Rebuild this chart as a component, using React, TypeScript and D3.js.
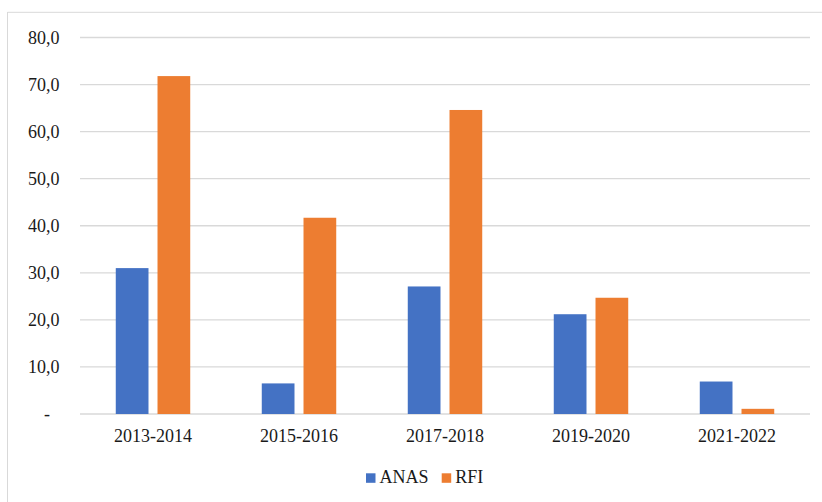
import * as d3 from "d3";
import { useRef, useEffect } from "react";

const periods = ["2013-2014", "2015-2016", "2017-2018", "2019-2020", "2021-2022"];
const seriesNames = ["ANAS", "RFI"];
const anasValues = [31.0, 6.5, 27.1, 21.2, 6.9];
const rfiValues = [71.8, 41.7, 64.6, 24.7, 1.1];
const yTicks = [0, 10, 20, 30, 40, 50, 60, 70, 80];
const colors = ["#4472C4", "#ED7D31"];

const FONT = "Liberation Serif, DejaVu Serif, serif";

export default function App() {
  const svgRef = useRef<SVGSVGElement | null>(null);
  const width = 822;
  const height = 502;

  useEffect(() => {
    if (!svgRef.current) return;
    const svg = d3.select(svgRef.current);
    svg.selectAll("*").remove();

    const marginLeft = 80;
    const marginRight = 12;
    const plotTop = 37.5;
    const plotBottom = 414;

    // chart frame (only left and top edges show in the crop)
    svg.append("line")
      .attr("x1", 7.5).attr("x2", 7.5).attr("y1", 12).attr("y2", height)
      .attr("stroke", "#D9D9D9").attr("stroke-width", 1);
    svg.append("line")
      .attr("x1", 7.5).attr("x2", width).attr("y1", 12.3).attr("y2", 12.3)
      .attr("stroke", "#D9D9D9").attr("stroke-width", 1);

    const x0 = d3.scaleBand()
      .domain(periods)
      .range([marginLeft, width - marginRight])
      .paddingInner(0.49)
      .paddingOuter(0.245);

    const x1 = d3.scaleBand()
      .domain(seriesNames)
      .range([0, x0.bandwidth()])
      .paddingInner(0.216);

    const y = d3.scaleLinear().domain([0, 80]).range([plotBottom, plotTop]);

    // gridlines
    svg.append("g")
      .selectAll("line")
      .data(yTicks)
      .join("line")
      .attr("x1", marginLeft)
      .attr("x2", width - marginRight)
      .attr("y1", (d) => y(d))
      .attr("y2", (d) => y(d))
      .attr("stroke", "#D9D9D9")
      .attr("stroke-width", 1.3);

    const textStyle = `font-family: ${FONT}; font-size: 18px;`;

    // y labels
    const fmt = (d: number) => (d === 0 ? "-" : d.toFixed(1).replace(".", ","));
    svg.append("g")
      .selectAll("text")
      .data(yTicks)
      .join("text")
      .attr("x", (d) => (d === 0 ? 50 : 59.5))
      .attr("y", (d) => y(d) + 6.3)
      .attr("text-anchor", "end")
      .attr("style", textStyle)
      .attr("fill", "#1a1a1a")
      .text(fmt);

    // bars
    const seriesData = [anasValues, rfiValues];
    seriesNames.forEach((name, si) => {
      svg.append("g")
        .selectAll("rect")
        .data(seriesData[si])
        .join("rect")
        .attr("x", (_, i) => x0(periods[i])! + x1(name)!)
        .attr("y", (d) => y(d))
        .attr("width", x1.bandwidth())
        .attr("height", (d) => y(0) - y(d))
        .attr("fill", colors[si]);
    });

    // x labels
    svg.append("g")
      .selectAll("text")
      .data(periods)
      .join("text")
      .attr("x", (d) => x0(d)! + x0.bandwidth() / 2)
      .attr("y", 442)
      .attr("text-anchor", "middle")
      .attr("style", textStyle)
      .attr("fill", "#1a1a1a")
      .text((d) => d);

    // legend
    const legendX = [366, 441.7];
    seriesNames.forEach((name, i) => {
      const g = svg.append("g").attr("transform", `translate(${legendX[i]},0)`);
      g.append("rect")
        .attr("x", 0).attr("y", 473.3)
        .attr("width", 9.5).attr("height", 9.5)
        .attr("fill", colors[i]);
      g.append("text")
        .attr("x", 13.5).attr("y", 482.7)
        .attr("style", textStyle)
        .attr("fill", "#1a1a1a")
        .text(name);
    });
  }, []);

  return (
    <svg
      ref={svgRef}
      width={width}
      height={height}
      style={{ position: "absolute", left: 0, top: 0, background: "#fff" }}
    ></svg>
  );
}
